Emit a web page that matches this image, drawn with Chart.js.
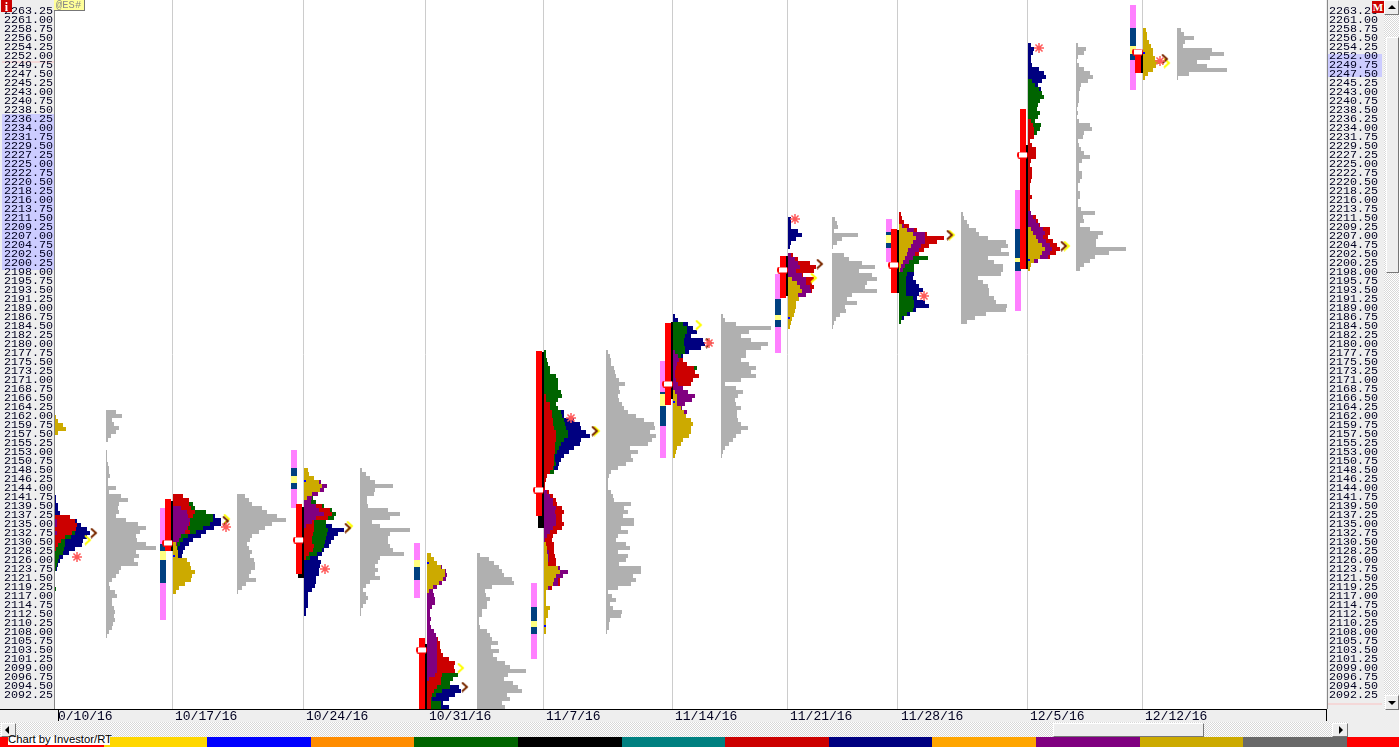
<!DOCTYPE html>
<html>
<head>
<meta charset="utf-8">
<title>@ES# weekly market profile</title>
<script src="https://cdn.jsdelivr.net/npm/chart.js@4"></script>
<style>
  html, body { margin: 0; padding: 0; background: #eee; overflow: hidden; }
  #page { position: relative; width: 1399px; height: 747px; overflow: hidden; background: #eee; }
  #page div { position: absolute; box-sizing: border-box; }
  canvas { position: absolute; left: 0; top: 0; }
  .dither { background: repeating-conic-gradient(#fff 0 25%, #d8d8d8 0 50%) 0 0 / 2px 2px; }
  .btn { background: #eee; border: 1px solid; border-color: #fff #777 #777 #fff; }
  .tag { font-family: "Liberation Mono", monospace; line-height: 1; }
</style>
</head>
<body>
<div id="page">
  <canvas id="chart" width="1383" height="721"></canvas>

  <div class="tag" style="left:1px;top:0;width:11px;height:12px;background:#c00;color:#fff;font:bold 12px 'Liberation Serif';text-align:center">i</div>
  <div class="tag" style="left:54px;top:0;width:31px;height:11px;background:#ffff99;color:#888;font-size:10.5px;border-right:1px solid #777;border-bottom:1px solid #777;padding-left:2px">@ES#</div>
  <div class="tag" style="left:1372px;top:1px;width:12px;height:12px;background:#c00;color:#fff;font:bold 11px 'Liberation Serif';text-align:center">M</div>

  <!-- right hand scroll bar -->
  <div class="dither" style="left:1384px;top:0;width:15px;height:710px"></div>
  <div class="btn" style="left:1384px;top:0;width:15px;height:15px"></div>
  <div style="left:1388px;top:5px;border:4px solid transparent;border-top:0;border-bottom:4px solid #000"></div>
  <div class="btn" style="left:1386px;top:37px;width:13px;height:236px"></div>
  <div class="btn" style="left:1385px;top:695px;width:14px;height:15px"></div>
  <div style="left:1388px;top:701px;border:4px solid transparent;border-bottom:0;border-top:4px solid #000"></div>

  <!-- bottom scroll bar -->
  <div class="dither" style="left:0;top:722px;width:1348px;height:15px"></div>
  <div class="btn" style="left:1px;top:723px;width:15px;height:14px"></div>
  <div style="left:5px;top:726px;border:4px solid transparent;border-left:0;border-right:4px solid #000"></div>
  <div class="btn" style="left:1053px;top:723px;width:151px;height:14px"></div>
  <div class="btn" style="left:1332px;top:723px;width:16px;height:14px"></div>
  <div style="left:1339px;top:726px;border:4px solid transparent;border-right:0;border-left:4px solid #000"></div>

  <div id="strip" style="left:0;top:737px;width:1399px;height:10px"></div>
  <div style="left:8px;top:737px;width:102px;height:8px;background:#fff"></div>
  <div style="left:8px;top:733px;width:104px;height:14px;font:11.3px 'Liberation Sans';color:#000;white-space:nowrap;overflow:hidden">Chart by Investor/RT</div>
</div>

<script>
  // week start of each profile, dates as the axis shows them
  const weekLabels = ["0/10/16", "10/17/16", "10/24/16", "10/31/16", "11/7/16", "11/14/16", "11/21/16", "11/28/16", "12/5/16", "12/12/16"];
  const gridCols = [55, 172, 303, 426, 543, 672, 787, 898, 1027, 1142];
  const profileCols = [55, 173, 304, 427, 544, 673, 788, 899, 1028, 1143];
  const compositeCols = [106, 237, 360, 477, 606, 721, 832, 961, 1076, 1177];

  // price axis
  const priceMin = 2088.75;
  const priceMax = 2266;
  const firstTick = 2092.25;
  const tickStep = 2.25;
  const tickCount = 77;
  const leftHighlight = [2198.5, 2237.5];
  const rightHighlight = [2246.75, 2252.5];

  // price of the first row of each week, rows run down one point at a time
  const weekTops = [2161.75, 2142, 2148.5, 2127.25, 2178, 2187, 2211.25, 2212.5, 2254.75, 2258.5];
  const compositeTops = [2163, 2142, 2148.5, 2127.25, 2178, 2187, 2211.25, 2212.5, 2254.75, 2258.5];

  // TPO widths per row, one list per week, by period colour
  const navyStart = [20, 0, 14, 33, 15, 0, 0, 15, 0, 0];
  const navyRows = [
    [1, 1, 3, 3, 5, 15, 22, 26, 32, 35, 32, 28, 27, 20, 14, 8, 5, 3, 2],
    [10, 16, 20, 22, 33, 42, 48, 48, 41, 33, 28, 20, 16, 12, 10, 9],
    [28, 40, 34, 30, 27, 25, 20, 18, 14, 17, 16, 15, 15, 12, 12, 11, 8, 4, 4, 4, 4, 2, 2],
    [32, 34, 28, 22, 16, 22],
    [20, 20, 30, 36, 37, 42, 46, 37, 36, 30, 25, 20, 17, 15, 14, 8],
    [2, 5, 15, 20, 24, 18, 30, 32, 28, 16, 10],
    [3, 3, 3, 10, 14, 8, 3, 2],
    [15, 14, 17, 20, 24, 20, 18, 26, 30, 17, 11, 5],
    [3, 6, 5, 3, 3, 4, 11, 16, 18, 14, 10, 13],
    [],
  ];
  const greenStart = [29, 0, 7, 30, 0, 2, 0, 10, 9, 0];
  const greenRows = [
    [20, 16, 10, 10, 9, 8, 4, 3, 2, 1, 0, 0, 0, 0, 1],
    [0, 0, 20, 22, 33, 40, 40, 37, 30, 23, 15, 10, 7, 5],
    [9, 12, 20, 28, 32, 30, 22, 22, 24, 23, 22, 21, 20, 18, 13, 6],
    [31, 26, 23, 23, 15, 9, 5, 14, 14],
    [2, 2, 3, 4, 6, 6, 12, 14, 14, 14, 17, 18, 14, 12, 14, 17, 18, 20, 21, 22, 24, 24, 20, 17, 15, 13, 11, 11, 12, 10, 10],
    [10, 14, 14, 12, 11, 11, 12, 12, 8, 8, 12, 24, 15],
    [],
    [18, 29, 20, 15, 15, 8, 7, 7, 7, 7, 7, 14, 15, 15, 14, 8, 3, 2],
    [4, 7, 11, 14, 16, 12, 10, 9, 12, 10, 7, 13, 12, 9, 6],
    [],
  ];
  const redStart = [25, 0, 9, 21, 11, 11, 9, 0, 19, 0];
  const redRows = [
    [15, 20, 22, 21, 17, 10, 6, 3, 1],
    [10, 16, 16, 18, 22, 20, 15, 17, 15, 17, 8],
    [18, 26, 28, 24, 10, 10, 10, 9, 8, 8, 10, 9, 5, 2],
    [11, 13, 13, 14, 16, 22, 28, 27, 28, 15, 14, 14, 10, 7, 5, 4, 4, 4],
    [2, 2, 6, 6, 8, 8, 9, 9, 10, 12, 12, 12, 11, 11, 11, 10, 10, 10, 9, 6, 3, 2, 1, 1, 5, 9, 12, 13, 18, 20, 18, 18, 20, 18, 13, 9, 8, 10, 10, 10, 11, 12, 12, 16, 20, 16, 16, 16, 8, 2],
    [10, 14, 21, 22, 26, 20, 18, 8],
    [5, 10, 22, 28, 26, 15, 26, 24, 26, 24, 12],
    [2, 3, 5, 10, 18, 28, 45, 38, 30, 25, 20],
    [3, 5, 6, 6, 6, 2, 4, 8, 8, 8, 3, 2, 4, 4, 4, 3, 2, 2, 2, 4, 2, 2, 2, 3, 8, 10, 12, 22, 22, 20, 25, 29, 32, 28, 22, 10, 2],
    [],
  ];
  const purpleStart = [26, 0, 3, 3, 35, 9, 9, 3, 42, 0];
  const purpleRows = [
    [2, 2, 0, 2],
    [0, 0, 0, 8, 14, 15, 17, 16, 14, 12, 8, 6, 4, 2],
    [17, 23, 20, 14, 8, 7, 12, 15, 20, 12, 8, 2],
    [15, 19, 20, 19, 15, 10, 6, 7, 8, 8, 5, 3, 3, 4, 3, 4, 7, 9, 10, 10, 10, 10, 10, 10, 10, 10, 10, 8, 2],
    [3, 6, 9, 9, 12, 11, 12, 12, 12, 9, 6, 3, 1, 0, 0, 5, 5, 5, 0, 16, 24, 19, 14, 14, 6, 2],
    [2, 5, 6, 4, 3, 2, 2, 3, 5, 10, 15, 22, 19, 12, 9, 14],
    [3, 7, 10, 12, 8, 14, 18, 18, 22, 23, 18, 10],
    [5, 15, 26, 26, 26, 22, 20, 16, 14, 10, 6, 4],
    [3, 5, 8, 11, 15, 17, 15, 18, 22, 24, 22, 20, 10],
    [],
  ];
  const goldStart = [0, 12, 0, 0, 48, 19, 15, 3, 46, 0];
  const goldRows = [
    [1, 3, 8, 11, 3],
    [3, 4, 5, 5, 14, 17, 18, 22, 19, 18, 12, 6, 3],
    [4, 5, 10, 15, 18, 16, 8, 3],
    [4, 7, 10, 14, 18, 18, 16, 12, 6, 2],
    [2, 3, 3, 4, 4, 4, 14, 16, 12, 10, 9, 4, 2, 2, 2, 2, 6, 4, 4, 2, 2, 2, 2],
    [2, 4, 4, 4, 8, 11, 13, 18, 20, 18, 18, 16, 10, 8, 4, 3, 2],
    [4, 9, 12, 14, 10, 11, 8, 8, 7, 6, 4, 3, 2],
    [3, 8, 14, 17, 14, 12, 9, 8, 6, 4, 2, 1],
    [3, 5, 8, 10, 14, 17, 14, 12, 6, 3, 2],
    [3, 4, 4, 6, 8, 10, 10, 12, 17, 13, 10, 5, 2],
  ];
  const compositeRows = [
    [10, 16, 6, 8, 13, 10, 5, 2, 0, 0, 1, 1, 1, 2, 3, 3, 4, 2, 2, 10, 3, 15, 22, 13, 12, 13, 10, 20, 32, 40, 34, 30, 31, 40, 50, 30, 33, 28, 32, 15, 13, 10, 6, 3, 4, 9, 11, 6, 6, 8, 9, 8, 9, 7, 6, 3, 1],
    [8, 12, 15, 25, 30, 40, 49, 35, 28, 22, 15, 13, 10, 12, 15, 13, 17, 18, 18, 14, 12, 19, 9, 5, 1],
    [2, 6, 10, 15, 33, 15, 14, 7, 7, 8, 28, 40, 30, 12, 20, 50, 30, 28, 28, 30, 33, 44, 20, 18, 15, 18, 15, 20, 10, 6, 3, 6, 8, 6, 3, 1, 1],
    [3, 12, 17, 22, 25, 27, 35, 37, 15, 8, 9, 13, 10, 10, 5, 5, 2, 2, 3, 10, 13, 15, 21, 14, 22, 16, 20, 28, 33, 49, 31, 27, 36, 41, 45, 30, 33, 25, 28],
    [2, 4, 5, 5, 8, 9, 10, 13, 19, 13, 14, 12, 13, 16, 18, 22, 30, 38, 48, 49, 44, 50, 46, 42, 24, 32, 25, 27, 20, 12, 5, 3, 2, 2, 2, 5, 7, 8, 25, 18, 22, 17, 28, 28, 15, 22, 12, 10, 20, 24, 12, 22, 20, 13, 35, 35, 27, 30, 25, 12, 2, 6, 10, 4, 7, 16, 15, 4, 3, 3, 1],
    [2, 4, 15, 50, 28, 20, 30, 47, 40, 25, 25, 20, 28, 35, 30, 35, 20, 4, 15, 22, 17, 14, 15, 20, 16, 16, 17, 20, 27, 20, 15, 12, 8, 4, 2, 1],
    [3, 5, 6, 2, 26, 10, 5, 1, 0, 12, 17, 30, 43, 27, 40, 45, 35, 33, 45, 20, 15, 25, 13, 14, 8, 4, 2, 1],
    [2, 3, 6, 8, 15, 18, 27, 45, 47, 40, 48, 27, 33, 42, 42, 40, 17, 22, 27, 28, 28, 33, 35, 46, 45, 25, 14, 6],
    [2, 10, 8, 2, 1, 3, 8, 14, 17, 12, 5, 4, 3, 3, 3, 2, 1, 2, 1, 3, 14, 16, 8, 7, 2, 3, 5, 8, 14, 6, 3, 3, 6, 6, 4, 2, 2, 4, 4, 2, 2, 5, 19, 7, 8, 4, 14, 27, 22, 20, 20, 50, 33, 19, 14, 8, 4],
    [4, 7, 17, 8, 6, 35, 47, 33, 20, 30, 50, 12, 1],
  ];

  // price ranges left of each profile, [low, high], the first week has none
  const extendRanges = [null, [2111, 2139], [2139, 2153.5], [2116.5, 2130.25], [2101.25, 2120.25], [2151.5, 2175.75], [2177.75, 2197.5], [2200.5, 2211.25], [2188.25, 2218.5], [2243.5, 2264.75]];
  const valueRanges = [null, [2120.25, 2130], [2143.75, 2149], [2121, 2124.25], [2107.5, 2114.25], [2159.5, 2168], [2184.25, 2191.25], [2204, 2208], [2198.25, 2208.75], [2251, 2259]];
  const ibRanges = [null, [2126, 2128.25], [2145.25, 2147], [2124.25, 2126], [2109.25, 2110.75], [2164.5, 2167.5], [2186, 2187.25], [2205.25, 2207.25], [2200.5, 2201.5], [2252.5, 2254.5]];
  const rangeBars = [null, [2128.25, 2141.25], [2122.5, 2140], [2088.75, 2106.5], [2137, 2178.25], [2164.75, 2185.25], [2191.5, 2202], [2192.75, 2208.75], [2198.75, 2238.75], [2247.75, 2253.5]];
  const bodyBars = [null, [2128.25, 2140.75], [2121.5, 2139.25], [2088.75, 2105], [2134, 2178], [2166.25, 2185.5], [2192, 2202], [2192.75, 2208.5], [2198.75, 2229.75], [2247.75, 2253]];
  const tailBars = [null, null, [2121.5, 2122.5], null, [2134, 2137], null, null, null, null, null];

  const pillPrices = [null, 2130.25, 2131, 2103.5, 2143.5, 2170, 2198.5, 2199.75, 2227.25, 2253];
  const openPrices = [null, 2127, 2145.75, 2125.25, 2109.5, 2165.5, 2186.5, null, 2201, 2252.75];

  // markers beside the profiles, as column and price
  const brownCols = [94, 226, 348, 465, 595, 709, 820, 950, 1064, 1165];
  const brownPrices = [2132.75, 2135.75, 2134, 2094.25, 2158.25, 2180.25, 2200, 2207.25, 2204.5, 2251.25];
  const yellowCols = [88, 227, 350, 461, 597, 699, 814, 952, 1067, 1167];
  const yellowPrices = [2131, 2136.25, 2134.5, 2099, 2158.25, 2184.75, 2196.5, 2207.25, 2204.5, 2250.25];
  const starCols = [77, 226, 325, 571, 709, 795, 924, 1039, 1160];
  const starPrices = [2126.75, 2134.25, 2123.75, 2161.5, 2180.25, 2211.25, 2192, 2254, 2250.75];

  const stripColors = ["#ff0000", "#ffd700", "#0000ff", "#ff8c00", "#006400", "#000000", "#008080", "#cc0000", "#000080", "#ffa500", "#800080", "#ccaa00", "#696969", "#ff0000"];

  // colour strip along the bottom
  const strip = document.getElementById("strip");
  stripColors.forEach((color, i) => {
    const el = document.createElement("div");
    el.style.cssText = `left:${i * 103.6}px;top:0;width:${i === 13 ? 60 : 104}px;height:10px;background:${color}`;
    strip.appendChild(el);
  });

  // little canvases used as point styles
  function chevron(color) {
    const c = document.createElement("canvas");
    c.width = 8;
    c.height = 11;
    const ctx = c.getContext("2d");
    ctx.strokeStyle = color;
    ctx.lineWidth = 2;
    ctx.beginPath();
    ctx.moveTo(1, 1);
    ctx.lineTo(6, 5.5);
    ctx.lineTo(1, 10);
    ctx.stroke();
    return c;
  }

  function pill() {
    const c = document.createElement("canvas");
    c.width = 11;
    c.height = 7;
    const ctx = c.getContext("2d");
    ctx.fillStyle = "#ff0000";
    ctx.beginPath();
    ctx.roundRect(0, 0, 11, 7, 3);
    ctx.fill();
    ctx.fillStyle = "#ffffff";
    ctx.fillRect(2, 1, 8, 5);
    return c;
  }

  function profileBars(startRows, rows, tops, cols) {
    const out = [];
    rows.forEach((list, w) => {
      list.forEach((tpo, i) => {
        if (tpo > 0) out.push({ x: [cols[w], cols[w] + tpo], y: tops[w] - startRows[w] - i });
      });
    });
    return out;
  }

  function tpoSet(data, color, thickness) {
    return {
      type: "bar",
      indexAxis: "y",
      xAxisID: "x",
      yAxisID: "y",
      stack: "rows",
      data,
      backgroundColor: color,
      barThickness: thickness || 4,
      borderWidth: 0,
      inflateAmount: 0,
    };
  }

  // upright ranges are thick line segments, a null price breaks the line between weeks
  function rangeSet(ranges, offset, color, thickness) {
    const data = [];
    ranges.forEach((range, w) => {
      if (!range) return;
      const x = gridCols[w] + offset;
      data.push({ x, y: range[0] }, { x, y: range[1] }, { x, y: null });
    });
    return {
      type: "line",
      xAxisID: "x",
      yAxisID: "y",
      data,
      borderColor: color,
      borderWidth: thickness,
      borderCapStyle: "butt",
      pointRadius: 0,
      spanGaps: false,
      tension: 0,
    };
  }

  function markerSet(cols, prices, style, extra) {
    return Object.assign({
      type: "scatter",
      xAxisID: "x",
      yAxisID: "y",
      data: cols.map((col, i) => ({ x: col, y: prices[i] })),
      pointStyle: style,
      pointRadius: 3,
      clip: false,
    }, extra);
  }

  const noStart = weekTops.map(() => 0);

  // written back to front, chart.js paints the first dataset on top
  const datasets = [
    tpoSet(profileBars(noStart, compositeRows, compositeTops, compositeCols), "#b0b0b0"),
    tpoSet(profileBars(navyStart, navyRows, weekTops, profileCols), "#000080"),
    tpoSet(profileBars(greenStart, greenRows, weekTops, profileCols), "#006400"),
    tpoSet(profileBars(redStart, redRows, weekTops, profileCols), "#cc0000"),
    tpoSet(profileBars(purpleStart, purpleRows, weekTops, profileCols), "#800080"),
    tpoSet(profileBars(goldStart, goldRows, weekTops, profileCols), "#ccaa00"),
    tpoSet(openPrices.map((p, w) => (p ? { x: [profileCols[w], profileCols[w] + 2], y: p } : null)).filter(Boolean), "#0000ff", 2),
    rangeSet(extendRanges, -9, "#ff80ff", 6),
    rangeSet(valueRanges, -9, "#004080", 6),
    rangeSet(ibRanges, -9, "#ffff80", 6),
    rangeSet(rangeBars, -4, "#ff0000", 6),
    rangeSet(tailBars, -2, "#000000", 6),
    rangeSet(bodyBars, 0, "#000000", 2),
    markerSet(pillPrices.map((p, w) => gridCols[w] - 4.5).slice(1), pillPrices.slice(1), pill()),
    markerSet(yellowCols, yellowPrices, chevron("#ffff00")),
    markerSet(brownCols, brownPrices, chevron("#7a2a00")),
    markerSet(starCols, starPrices, "star", { pointRadius: 5, pointBorderColor: "#ff5a5a", pointBorderWidth: 1.5, pointBackgroundColor: "#ff5a5a" }),
  ].reverse();

  const axisFont = { family: "'Liberation Mono', monospace", size: 11.7 };

  function priceTicks(scale) {
    scale.ticks = Array.from({ length: tickCount }, (_, i) => ({ value: firstTick + i * tickStep }));
  }

  function priceAxis(position, width, padding) {
    return {
      type: "linear",
      axis: "y",
      position,
      min: priceMin,
      max: priceMax,
      bounds: "data",
      offset: false,
      afterBuildTicks: priceTicks,
      afterFit: (scale) => {
        scale.width = width;
        scale.paddingTop = 0;
        scale.paddingBottom = 0;
      },
      grid: { display: false, drawTicks: false, offset: false },
      border: { display: false },
      ticks: {
        autoSkip: false,
        padding,
        color: "#000020",
        font: axisFont,
        callback: (v) => v.toFixed(2),
      },
    };
  }

  const panels = {
    id: "panels",
    beforeDraw(chart) {
      const { ctx, chartArea, scales } = chart;
      const y = scales.y;
      ctx.save();
      ctx.fillStyle = "#eeeeee";
      ctx.fillRect(0, 0, chart.width, chart.height);
      ctx.fillStyle = "#ffffff";
      ctx.fillRect(chartArea.left, chartArea.top, chartArea.width, chartArea.height);
      ctx.fillStyle = "#ccccff";
      ctx.fillRect(2, y.getPixelForValue(leftHighlight[1]), 52, y.getPixelForValue(leftHighlight[0]) - y.getPixelForValue(leftHighlight[1]));
      ctx.fillRect(chartArea.right + 2, y.getPixelForValue(rightHighlight[1]), 54, y.getPixelForValue(rightHighlight[0]) - y.getPixelForValue(rightHighlight[1]));
      ctx.fillStyle = "#f4d8d8";
      ctx.fillRect(2, y.getPixelForValue(2250.75), 52, 2);
      ctx.fillRect(chartArea.right + 2, y.getPixelForValue(2090.25), 54, 2);
      ctx.restore();
    },
    afterDraw(chart) {
      const { ctx, chartArea } = chart;
      ctx.save();
      ctx.fillStyle = "#888888";
      ctx.fillRect(chartArea.left - 1, 0, 1, chartArea.bottom);
      ctx.fillRect(chartArea.right + 1, 0, 1, chartArea.bottom);
      ctx.fillRect(0, 721, chart.width, 1);
      ctx.fillStyle = "#000000";
      ctx.fillRect(0, chartArea.bottom, chartArea.right, 1);
      ctx.fillRect(58, chartArea.bottom, 1, 12);
      ctx.fillRect(chartArea.right, chartArea.bottom, 1, 12);
      ctx.restore();
    },
  };

  new Chart(document.getElementById("chart"), {
    data: { datasets },
    plugins: [panels],
    options: {
      responsive: false,
      animation: false,
      devicePixelRatio: 1,
      events: [],
      layout: { padding: 0, autoPadding: false },
      plugins: { legend: { display: false }, tooltip: { enabled: false } },
      scales: {
        x: {
          type: "linear",
          axis: "x",
          position: "bottom",
          min: 55,
          max: 1326,
          bounds: "data",
          offset: false,
          stacked: false,
          afterBuildTicks: (scale) => {
            scale.ticks = gridCols.map((value) => ({ value }));
          },
          afterFit: (scale) => {
            scale.height = 12;
            scale.paddingLeft = 0;
            scale.paddingRight = 0;
          },
          grid: {
            color: (c) => (c.index === 0 ? "rgba(0,0,0,0)" : "#cccccc"),
            lineWidth: 1,
            drawTicks: false,
            offset: false,
          },
          border: { display: false },
          ticks: {
            autoSkip: false,
            maxRotation: 0,
            align: "start",
            labelOffset: 3,
            padding: 0,
            color: "#000020",
            font: { family: "'Liberation Mono', monospace", size: 13 },
            callback: (v, i) => weekLabels[i],
          },
        },
        y: priceAxis("left", 55, 2),
        yRight: priceAxis("right", 57, 3),
      },
    },
  });
</script>
</body>
</html>
